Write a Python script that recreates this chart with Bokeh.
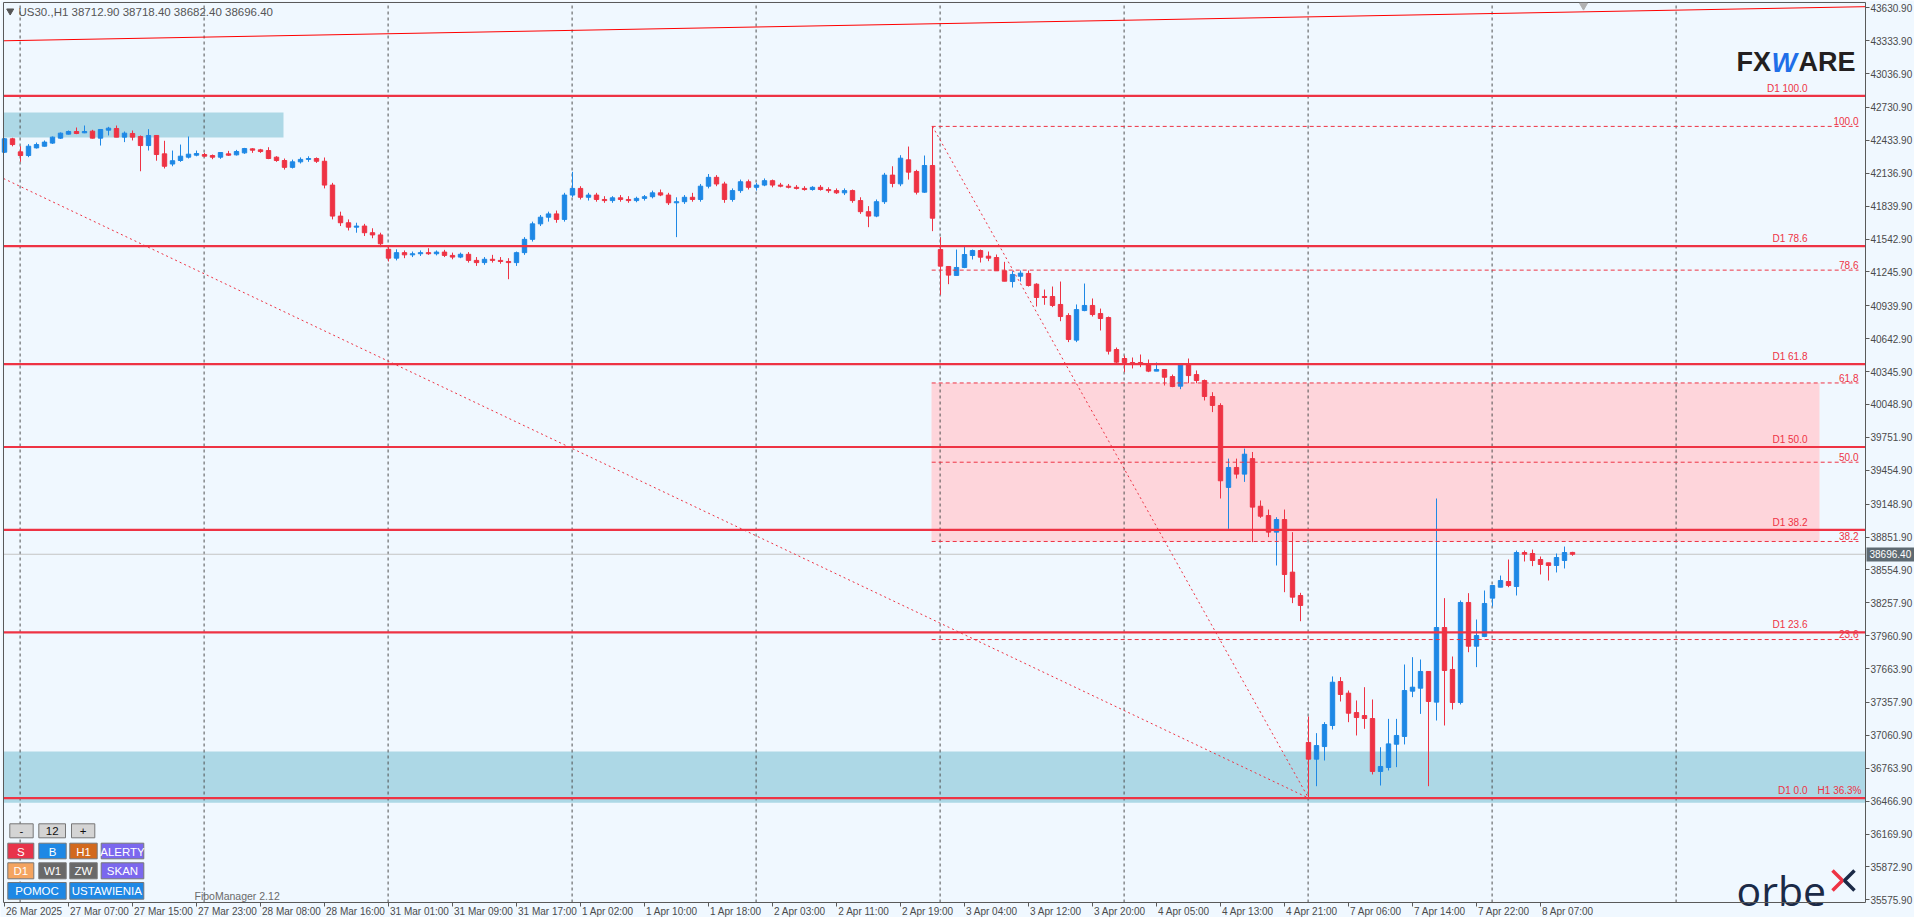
from bokeh.plotting import figure
from bokeh.models import Range1d, FixedTicker, NumeralTickFormatter
from bokeh.core.properties import value
from bokeh.embed import file_html
from bokeh.resources import INLINE

# ---------------- data (US30 H1, 26 Mar 2025 22:00 .. 8 Apr 2025) ----------------
OPEN = [42327, 42448, 42330, 42297, 42366, 42381, 42409, 42454, 42490, 42514,
        42502, 42517, 42454, 42526, 42541, 42463, 42496, 42469, 42387, 42478,
        42312, 42220, 42252, 42282, 42300, 42306, 42297, 42282, 42312, 42303,
        42321, 42357, 42348, 42342, 42282, 42252, 42190, 42240, 42262, 42270,
        42245, 42030, 41750, 41690, 41650, 41660, 41600, 41580, 41450, 41370,
        41420, 41400, 41410, 41420, 41410, 41425, 41395, 41380, 41405, 41350,
        41330, 41360, 41350, 41340, 41330, 41420, 41540, 41680, 41740, 41770,
        41720, 41940, 42000, 41920, 41940, 41900, 41890, 41915, 41900, 41890,
        41910, 41925, 41960, 41940, 41870, 41880, 41920, 41900, 42020, 42100,
        42040, 41900, 41980, 42060, 42010, 42030, 42070, 42030, 42020, 42010,
        42000, 41990, 42010, 41990, 41980, 41960, 41980, 41890, 41790, 41750,
        41880, 42120, 42041, 42258, 42153, 41966, 42207, 41448, 41295, 41214,
        41286, 41394, 41439, 41388, 41376, 41256, 41159, 41207, 41232, 41135,
        41024, 41024, 40952, 40852, 40630, 40897, 40943, 40870, 40834, 40545,
        40464, 40428, 40428, 40410, 40350, 40365, 40301, 40214, 40410, 40319,
        40265, 40121, 40040, 39300, 39480, 39420, 39560, 39130, 39046, 38896,
        39010, 38535, 38324, 36997, 36846, 36960, 37150, 37547, 37442, 37267,
        37240, 37213, 36735, 36771, 36981, 37051, 37460, 37487, 37638, 37361,
        38035, 37656, 37358, 38261, 37866, 37954, 38300, 38399, 38450, 38405,
        38712, 38703, 38649, 38619, 38595, 38640, 38712.9]
HIGH = [42455, 42457, 42381, 42400, 42414, 42433, 42469, 42505, 42523, 42550,
        42568, 42529, 42532, 42556, 42568, 42514, 42523, 42478, 42535, 42478,
        42430, 42342, 42396, 42469, 42342, 42321, 42306, 42324, 42339, 42348,
        42366, 42363, 42357, 42372, 42291, 42270, 42260, 42280, 42290, 42280,
        42279, 42050, 41790, 41720, 41690, 41680, 41640, 41600, 41480, 41450,
        41440, 41430, 41440, 41460, 41440, 41445, 41420, 41420, 41425, 41380,
        41380, 41400, 41380, 41370, 41430, 41560, 41700, 41760, 41790, 41800,
        41960, 42150, 42020, 41960, 41960, 41930, 41930, 41940, 41930, 41925,
        41940, 41980, 41990, 41960, 41920, 41940, 41960, 42040, 42130, 42120,
        42060, 42000, 42080, 42080, 42050, 42090, 42080, 42050, 42040, 42030,
        42020, 42020, 42030, 42010, 42000, 42000, 41990, 41920, 41840, 41900,
        42140, 42200, 42300, 42378, 42168, 42297, 42560, 41560, 41295, 41448,
        41484, 41448, 41448, 41430, 41403, 41337, 41253, 41259, 41259, 41144,
        41087, 41114, 41159, 40873, 40952, 41141, 41006, 40915, 40843, 40563,
        40491, 40473, 40500, 40455, 40428, 40365, 40319, 40416, 40464, 40356,
        40274, 40160, 40060, 39560, 39560, 39650, 39620, 39182, 39100, 39031,
        39100, 38896, 38348, 37231, 37081, 37180, 37593, 37587, 37466, 37376,
        37496, 37385, 36954, 37210, 37210, 37701, 37767, 37746, 37638, 39200,
        38300, 37773, 38279, 38345, 38107, 38369, 38414, 38504, 38649, 38730,
        38730, 38739, 38676, 38619, 38703, 38766, 38718.4]
LOW = [42320, 42380, 42240, 42282, 42360, 42378, 42402, 42448, 42487, 42490,
       42499, 42451, 42387, 42478, 42463, 42418, 42433, 42155, 42342, 42250,
       42180, 42200, 42240, 42270, 42290, 42282, 42264, 42267, 42294, 42297,
       42312, 42321, 42321, 42264, 42240, 42170, 42180, 42225, 42240, 42230,
       42000, 41720, 41660, 41620, 41600, 41570, 41550, 41470, 41340, 41350,
       41370, 41380, 41390, 41400, 41395, 41380, 41360, 41370, 41330, 41300,
       41310, 41330, 41320, 41180, 41300, 41400, 41520, 41660, 41700, 41690,
       41700, 41920, 41900, 41890, 41880, 41870, 41870, 41880, 41870, 41875,
       41890, 41910, 41930, 41850, 41560, 41860, 41880, 41880, 42000, 42020,
       41870, 41880, 41960, 41990, 41980, 42020, 42010, 42010, 42000, 41990,
       41980, 41980, 41980, 41960, 41950, 41940, 41870, 41770, 41650, 41740,
       41860, 42010, 42020, 42080, 41945, 41960, 41614, 41039, 41135, 41214,
       41280, 41358, 41331, 41343, 41256, 41162, 41105, 41159, 41114, 40934,
       40949, 40928, 40801, 40612, 40612, 40891, 40843, 40717, 40500, 40410,
       40341, 40374, 40386, 40341, 40350, 40220, 40205, 40187, 40241, 40241,
       40085, 39980, 39200, 38926, 39380, 39350, 38806, 39025, 38851, 38595,
       38354, 38255, 38092, 36495, 36602, 36834, 37114, 37367, 37180, 37060,
       37120, 36708, 36608, 36744, 36774, 36979, 37406, 37255, 36602, 37195,
       37150, 37295, 37340, 37812, 37677, 37948, 38225, 38399, 38399, 38324,
       38631, 38589, 38514, 38459, 38532, 38568, 38682.4]
CLOSE = [42448, 42396, 42297, 42381, 42396, 42418, 42463, 42499, 42514, 42496,
         42514, 42454, 42532, 42544, 42463, 42499, 42463, 42387, 42478, 42306,
         42200, 42250, 42291, 42309, 42315, 42291, 42282, 42324, 42300, 42333,
         42360, 42345, 42333, 42270, 42252, 42190, 42240, 42262, 42270, 42245,
         42030, 41750, 41690, 41650, 41660, 41600, 41580, 41500, 41370, 41420,
         41400, 41410, 41420, 41410, 41425, 41395, 41380, 41405, 41350, 41330,
         41360, 41350, 41340, 41330, 41420, 41540, 41680, 41740, 41770, 41720,
         41940, 42000, 41920, 41940, 41900, 41890, 41915, 41900, 41890, 41910,
         41925, 41960, 41940, 41870, 41880, 41920, 41900, 42020, 42100, 42040,
         41900, 41980, 42060, 42010, 42030, 42070, 42030, 42020, 42010, 42000,
         41990, 42010, 41990, 41980, 41960, 41980, 41890, 41790, 41750, 41880,
         42120, 42045, 42273, 42147, 41966, 42207, 41731, 41298, 41217, 41286,
         41403, 41439, 41379, 41370, 41256, 41162, 41223, 41235, 41123, 41015,
         41015, 40943, 40843, 40636, 40906, 40943, 40861, 40825, 40530, 40431,
         40428, 40410, 40410, 40350, 40365, 40295, 40211, 40416, 40310, 40265,
         40121, 40040, 39360, 39480, 39420, 39600, 39122, 39040, 38896, 39010,
         38514, 38309, 38234, 36846, 36969, 37159, 37541, 37430, 37261, 37222,
         37213, 36735, 36780, 36984, 37060, 37466, 37496, 37638, 37367, 38035,
         37647, 37358, 38261, 37866, 37963, 38252, 38414, 38459, 38414, 38712,
         38697, 38640, 38604, 38595, 38667, 38712, 38696.4]

X_TICK_LABELS = ["26 Mar 2025", "27 Mar 07:00", "27 Mar 15:00", "27 Mar 23:00",
                 "28 Mar 08:00", "28 Mar 16:00", "31 Mar 01:00", "31 Mar 09:00",
                 "31 Mar 17:00", "1 Apr 02:00", "1 Apr 10:00", "1 Apr 18:00",
                 "2 Apr 03:00", "2 Apr 11:00", "2 Apr 19:00", "3 Apr 04:00",
                 "3 Apr 12:00", "3 Apr 20:00", "4 Apr 05:00", "4 Apr 13:00",
                 "4 Apr 21:00", "7 Apr 06:00", "7 Apr 14:00", "7 Apr 22:00",
                 "8 Apr 07:00"]
Y_TICKS = [43630.9, 43333.9, 43036.9, 42730.9, 42433.9, 42136.9, 41839.9,
           41542.9, 41245.9, 40939.9, 40642.9, 40345.9, 40048.9, 39751.9,
           39454.9, 39148.9, 38851.9, 38554.9, 38257.9, 37960.9, 37663.9,
           37357.9, 37060.9, 36763.9, 36466.9, 36169.9, 35872.9, 35575.9]

FIB_LEVELS = [0.0, 23.6, 38.2, 50.0, 61.8, 78.6, 100.0]
D1_LOW, D1_HIGH = 36495.0, 42835.0
H1_LOW, H1_HIGH = 36495.0, 42560.0
H1_HIGH_BAR, H1_LOW_BAR = 116, 163
ZONE_TOP = (42685.0, 42460.0)
ZONE_BOTTOM = (36915.0, 36453.0)
TREND_TOP = (43333.0, 43641.0)
DIAG_START = 42089.5
LAST_PRICE = 38696.40
HEADER = "US30.,H1  38712.90 38718.40 38682.40 38696.40"

# ---------------- helpers: reference-pixel -> data coordinates ----------------
def bx(px):
    return (px - 4.0) / 8.0


def py(px):
    return 43630.9 - (px - 7.3) * 9.03


W, H = 1914, 917
RED = "#EE3344"
BLUE = "#1E88E5"
FONT = "Liberation Sans"
AX = "#5a5a5a"
CL, CR, CT, CB = 3, 1865, 2, 902        # chart box in reference pixels

p = figure(width=W, height=H, output_backend="svg", toolbar_location=None,
           x_range=Range1d(bx(0), bx(W)), y_range=Range1d(py(H), py(0)),
           y_axis_location="right", min_border_left=0, min_border_top=0,
           min_border_right=0, min_border_bottom=0)
p.background_fill_color = "#F0F8FF"
p.border_fill_color = "#F0F8FF"
p.outline_line_color = None
p.xgrid.visible = False
p.ygrid.visible = False

# right price axis
ya = p.yaxis[0]
ya.fixed_location = bx(CR)
ya.bounds = (py(CB), py(CT))
ya.ticker = FixedTicker(ticks=Y_TICKS)
ya.formatter = NumeralTickFormatter(format="0.00")
ya.axis_line_color = AX
ya.major_tick_line_color = AX
ya.major_tick_out = 4
ya.major_tick_in = 0
ya.minor_tick_line_color = None
ya.major_label_text_color = "#4a4a4a"
ya.major_label_text_font = FONT
ya.major_label_text_font_size = "10px"
ya.major_label_standoff = 1

# bottom time axis: labels start at their tick, like the terminal draws them
xt = [8 * i for i in range(len(X_TICK_LABELS))]
CW = {"M": 8.33, "A": 6.67, "a": 5.56, "r": 3.33, "p": 5.56, " ": 2.78, ":": 2.78}
def label_w(s):
    return sum(CW.get(ch, 5.56) for ch in s)
lab_pos = [t + (label_w(s) / 2.0 + 1.5) / 8.0 for t, s in zip(xt, X_TICK_LABELS)]
xa = p.xaxis[0]
xa.fixed_location = py(CB)
xa.bounds = (bx(CL), bx(CR))
xa.ticker = FixedTicker(ticks=lab_pos)
xa.major_label_overrides = {v: s for v, s in zip(lab_pos, X_TICK_LABELS)}
xa.axis_line_color = AX
xa.major_tick_line_color = None
xa.major_tick_out = 0
xa.major_tick_in = 0
xa.minor_tick_line_color = None
xa.minor_tick_out = 0
xa.major_label_text_color = "#4a4a4a"
xa.major_label_text_font = FONT
xa.major_label_text_font_size = "10px"
xa.major_label_standoff = 3
# tick marks at the bar each label belongs to
p.segment(x0=xt, y0=[py(CB)] * len(xt), x1=xt, y1=[py(CB + 4)] * len(xt),
          line_color=AX, line_width=1)

# ---------------- zones ----------------
p.quad(left=bx(CL), right=bx(283), top=ZONE_TOP[0], bottom=ZONE_TOP[1],
       fill_color="#ADD8E6", line_color=None)
p.quad(left=bx(CL), right=bx(CR), top=ZONE_BOTTOM[0], bottom=ZONE_BOTTOM[1],
       fill_color="#ADD8E6", line_color=None)
h1 = lambda f: H1_LOW + f / 100.0 * (H1_HIGH - H1_LOW)
d1 = lambda f: D1_LOW + f / 100.0 * (D1_HIGH - D1_LOW)
p.quad(left=bx(931), right=bx(1819), top=h1(61.8), bottom=h1(38.2),
       fill_color="#FED5DB", line_color=None)

# ---------------- vertical dashed grid ----------------
gx = [1.95 + 23 * k for k in range(10)]
p.segment(x0=gx, y0=[py(CB)] * len(gx), x1=gx, y1=[py(CT)] * len(gx),
          line_color="#505050", line_dash="3 3", line_width=1)

# current price line
p.segment(x0=[bx(CL)], y0=[LAST_PRICE], x1=[bx(CR)], y1=[LAST_PRICE],
          line_color="#C4C4C4", line_width=1)

# ---------------- candles ----------------
idx = list(range(len(OPEN)))
cols = [BLUE if c >= o else RED for o, c in zip(OPEN, CLOSE)]
p.segment(x0=idx, y0=LOW, x1=idx, y1=HIGH, line_color=cols, line_width=1)
p.vbar(x=idx, width=0.55, top=[max(o, c) for o, c in zip(OPEN, CLOSE)],
       bottom=[min(o, c) for o, c in zip(OPEN, CLOSE)],
       fill_color=cols, line_color=cols, line_width=1)

# ---------------- fibo lines ----------------
for f in FIB_LEVELS:
    y = d1(f)
    p.segment(x0=[bx(CL)], y0=[y], x1=[bx(CR)], y1=[y], line_color=RED, line_width=2.2)
for f in FIB_LEVELS[1:]:
    y = h1(f)
    p.segment(x0=[H1_HIGH_BAR - 0.1], y0=[y], x1=[bx(1858)], y1=[y],
              line_color=RED, line_width=1, line_dash="4 3")

# trend lines
p.segment(x0=[bx(CL)], y0=[TREND_TOP[0]], x1=[bx(CR)], y1=[TREND_TOP[1]],
          line_color="#FF0000", line_width=1)
p.segment(x0=[bx(CL)], y0=[DIAG_START], x1=[H1_LOW_BAR], y1=[H1_LOW],
          line_color=RED, line_width=1, line_dash="2 3")
p.segment(x0=[H1_HIGH_BAR], y0=[H1_HIGH], x1=[H1_LOW_BAR], y1=[H1_LOW],
          line_color=RED, line_width=1, line_dash="2 3")

# chart border (left / top)
p.line(x=[bx(CL), bx(CL), bx(CR)], y=[py(CB), py(CT), py(CT)], line_color=AX, line_width=1)

# ---------------- fibo labels ----------------
dy = 2.3 * 9.03
fib_txt = ["0.0", "23.6", "38.2", "50.0", "61.8", "78.6", "100.0"]
p.text(x=[bx(1807)] * 7, y=[d1(f) + dy for f in FIB_LEVELS],
       text=["D1 " + t for t in fib_txt], text_align="right", text_baseline="bottom",
       text_color=RED, text_font=value(FONT), text_font_size="10px")
p.text(x=[bx(1858)] * 6, y=[h1(f) + dy * 0.6 for f in FIB_LEVELS[1:]],
       text=fib_txt[1:], text_align="right", text_baseline="bottom",
       text_color=RED, text_font=value(FONT), text_font_size="10px")
p.text(x=[bx(1861)], y=[d1(0) + dy], text=["H1 36.3%"], text_align="right",
       text_baseline="bottom", text_color=RED, text_font=value(FONT), text_font_size="10px")

# ---------------- header ----------------
p.scatter(x=[bx(9.7)], y=[py(10.5)], marker="inverted_triangle", size=7, color="#555555")
p.text(x=[bx(18)], y=[py(11)], text=[HEADER], text_baseline="middle",
       text_color="#555555", text_font=value(FONT), text_font_size="11.5px")
p.scatter(x=[bx(1583)], y=[py(5)], marker="inverted_triangle", size=8, color="#B0B0B0")

# ---------------- logos ----------------
p.text(x=[bx(1736)], y=[py(61)], text=["FX"], text_baseline="alphabetic",
       text_color="#231F20", text_font=value(FONT), text_font_style="bold", text_font_size="27px")
p.text(x=[bx(1771)], y=[py(62)], text=["W"], text_baseline="alphabetic",
       text_color="#1F6FE8", text_font=value(FONT), text_font_style="bold italic", text_font_size="27px")
p.text(x=[bx(1798)], y=[py(61)], text=["ARE"], text_baseline="alphabetic",
       text_color="#231F20", text_font=value(FONT), text_font_style="bold", text_font_size="27px")

p.text(x=[bx(1736)], y=[py(889)], text=["orbe"], text_baseline="alphabetic",
       text_color="#1B2A47", text_font=value("Open Sans"), text_font_size="41px")
p.line(x=[bx(1832), bx(1842), bx(1832)], y=[py(870), py(880), py(890)],
       line_color=RED, line_width=3.5)
p.line(x=[bx(1854), bx(1844), bx(1854)], y=[py(870), py(880), py(890)],
       line_color="#1B2A47", line_width=3.5)

# ---------------- button panel ----------------
BTN = [("-", 9.3, 32.7, 823.3, 837.3, "#D4D4D4", "#111111"),
       ("12", 38.3, 65.0, 823.3, 837.3, "#D4D4D4", "#111111"),
       ("+", 71.0, 94.3, 823.3, 837.3, "#D4D4D4", "#111111"),
       ("S", 7.3, 33.3, 842.7, 858.3, "#E8334A", "white"),
       ("B", 38.3, 65.7, 842.7, 858.3, "#1E88E5", "white"),
       ("H1", 69.3, 96.7, 842.7, 858.3, "#D2691E", "white"),
       ("ALERTY", 100.7, 143.3, 842.7, 858.3, "#7B68EE", "white"),
       ("D1", 7.3, 33.3, 862.3, 878.3, "#F4A460", "white"),
       ("W1", 38.3, 65.7, 862.3, 878.3, "#696969", "white"),
       ("ZW", 69.3, 96.7, 862.3, 878.3, "#696969", "white"),
       ("SKAN", 100.7, 143.3, 862.3, 878.3, "#7B68EE", "white"),
       ("POMOC", 7.3, 65.7, 882.0, 898.7, "#1E88E5", "white"),
       ("USTAWIENIA", 69.3, 143.3, 882.0, 898.7, "#1E88E5", "white")]
p.quad(left=[bx(b[1]) for b in BTN], right=[bx(b[2]) for b in BTN],
       top=[py(b[3]) for b in BTN], bottom=[py(b[4]) for b in BTN],
       fill_color=[b[5] for b in BTN], line_color="#777777", line_width=1)
p.text(x=[bx((b[1] + b[2]) / 2) for b in BTN], y=[py((b[3] + b[4]) / 2 + 0.5) for b in BTN],
       text=[b[0] for b in BTN], text_align="center", text_baseline="middle",
       text_color=[b[6] for b in BTN], text_font=value(FONT), text_font_size="11.5px")
p.text(x=[bx(194)], y=[py(895)], text=["FiboManager 2.12"], text_baseline="middle",
       text_color="#6a6a6a", text_font=value(FONT), text_font_size="10.5px")

# ---------------- last price tag on the price axis ----------------
p.quad(left=[bx(1866)], right=[bx(1914)], top=[py(547)], bottom=[py(561)],
       fill_color="#5E6A72", line_color=None)
p.text(x=[bx(1869)], y=[LAST_PRICE], text=["%.2f" % LAST_PRICE], text_baseline="middle",
       text_color="white", text_font=value(FONT), text_font_size="10px")

open("out.html", "w").write(file_html(p, INLINE))
